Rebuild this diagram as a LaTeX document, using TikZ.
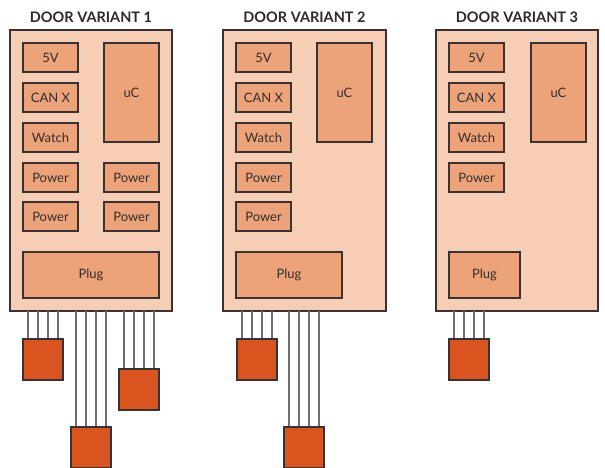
\documentclass[tikz,border=0pt]{standalone}
\usepackage{fontspec}
\setmainfont{Lato}
\definecolor{boardfill}{HTML}{F6CDB5}
\definecolor{blkfill}{HTML}{EDA37A}
\definecolor{conn}{HTML}{DA541F}
\definecolor{edge}{HTML}{3A3232}
\definecolor{wirec}{HTML}{6E6E6E}
\begin{document}
\begin{tikzpicture}[x=1pt,y=-1pt,
  board/.style={draw=edge,line width=2pt,fill=boardfill,anchor=north west,inner sep=0pt,outer sep=0pt},
  blk/.style={draw=edge,line width=1.5pt,fill=blkfill,anchor=north west,inner sep=0pt,outer sep=0pt,
    font=\fontsize{13}{13}\selectfont,text=edge!90!black},
  small/.style={blk,minimum width=55pt,minimum height=29pt},
  tall/.style={blk,minimum width=55pt,minimum height=99pt},
  connbox/.style={draw=edge,line width=1.2pt,fill=conn,anchor=north west,minimum width=40pt,minimum height=41pt,inner sep=0pt,outer sep=0pt},
  wire/.style={draw=wirec,line width=1.3pt},
  title/.style={font=\fontsize{14.5}{14.5}\selectfont\bfseries,text=edge!80!black}]
\useasboundingbox (0,0) rectangle (605,467);

% ---------- Variant 1
\node[board,minimum width=162pt,minimum height=281pt] (b1) at (10,30) {};
\node[title] (t1) at (91,17) {DOOR VARIANT 1};
\node[small] (b1v) at (23,43) {5V};
\node[small] (b1can) at (23,83) {CAN X};
\node[small] (b1w) at (23,123) {Watch};
\node[tall] (b1uc) at (104,43) {uC};
\node[small] (b1p1) at (23,163) {Power};
\node[small] (b1p2) at (23,202) {Power};
\node[small] (b1p3) at (104,163) {Power};
\node[small] (b1p4) at (104,202) {Power};
\node[blk,minimum width=136pt,minimum height=46pt] (b1plug) at (23,252) {Plug};
\node[connbox] (c1a) at (23,339) {};
\node[connbox] (c1b) at (71,427) {};
\node[connbox] (c1c) at (119,369) {};

% ---------- Variant 2
\node[board,minimum width=163pt,minimum height=281pt] (b2) at (223,30) {};
\node[title] (t2) at (304.5,17) {DOOR VARIANT 2};
\node[small] (b2v) at (236,43) {5V};
\node[small] (b2can) at (236,83) {CAN X};
\node[small] (b2w) at (236,123) {Watch};
\node[tall] (b2uc) at (317,43) {uC};
\node[small] (b2p1) at (236,163) {Power};
\node[small] (b2p2) at (236,202) {Power};
\node[blk,minimum width=106pt,minimum height=46pt] (b2plug) at (236,252) {Plug};
\node[connbox] (c2a) at (237,339) {};
\node[connbox] (c2b) at (284,427) {};

% ---------- Variant 3
\node[board,minimum width=162pt,minimum height=281pt] (b3) at (436,30) {};
\node[title] (t3) at (517,17) {DOOR VARIANT 3};
\node[small] (b3v) at (449,43) {5V};
\node[small] (b3can) at (449,83) {CAN X};
\node[small] (b3w) at (449,123) {Watch};
\node[tall] (b3uc) at (531,43) {uC};
\node[small] (b3p1) at (449,163) {Power};
\node[blk,minimum width=71pt,minimum height=46pt] (b3plug) at (449,252) {Plug};
\node[connbox] (c3a) at (449,339) {};

% ---------- wires
\foreach \c/\b in {c1a/b1,c1b/b1,c1c/b1,c2a/b2,c2b/b2,c3a/b3}{
  \foreach \i in {0,1,2,3}{
    \draw[wire] ([xshift=5pt+10pt*\i]\c.north west) -- ([xshift=5pt+10pt*\i]\c.north west |- \b.south);
  }
}
% redraw connector boxes' top edges over wires
\foreach \c in {c1a,c1b,c1c,c2a,c2b,c3a}{
  \draw[draw=edge,line width=1.2pt] (\c.north west) -- (\c.north east);
}
\end{tikzpicture}
\end{document}
